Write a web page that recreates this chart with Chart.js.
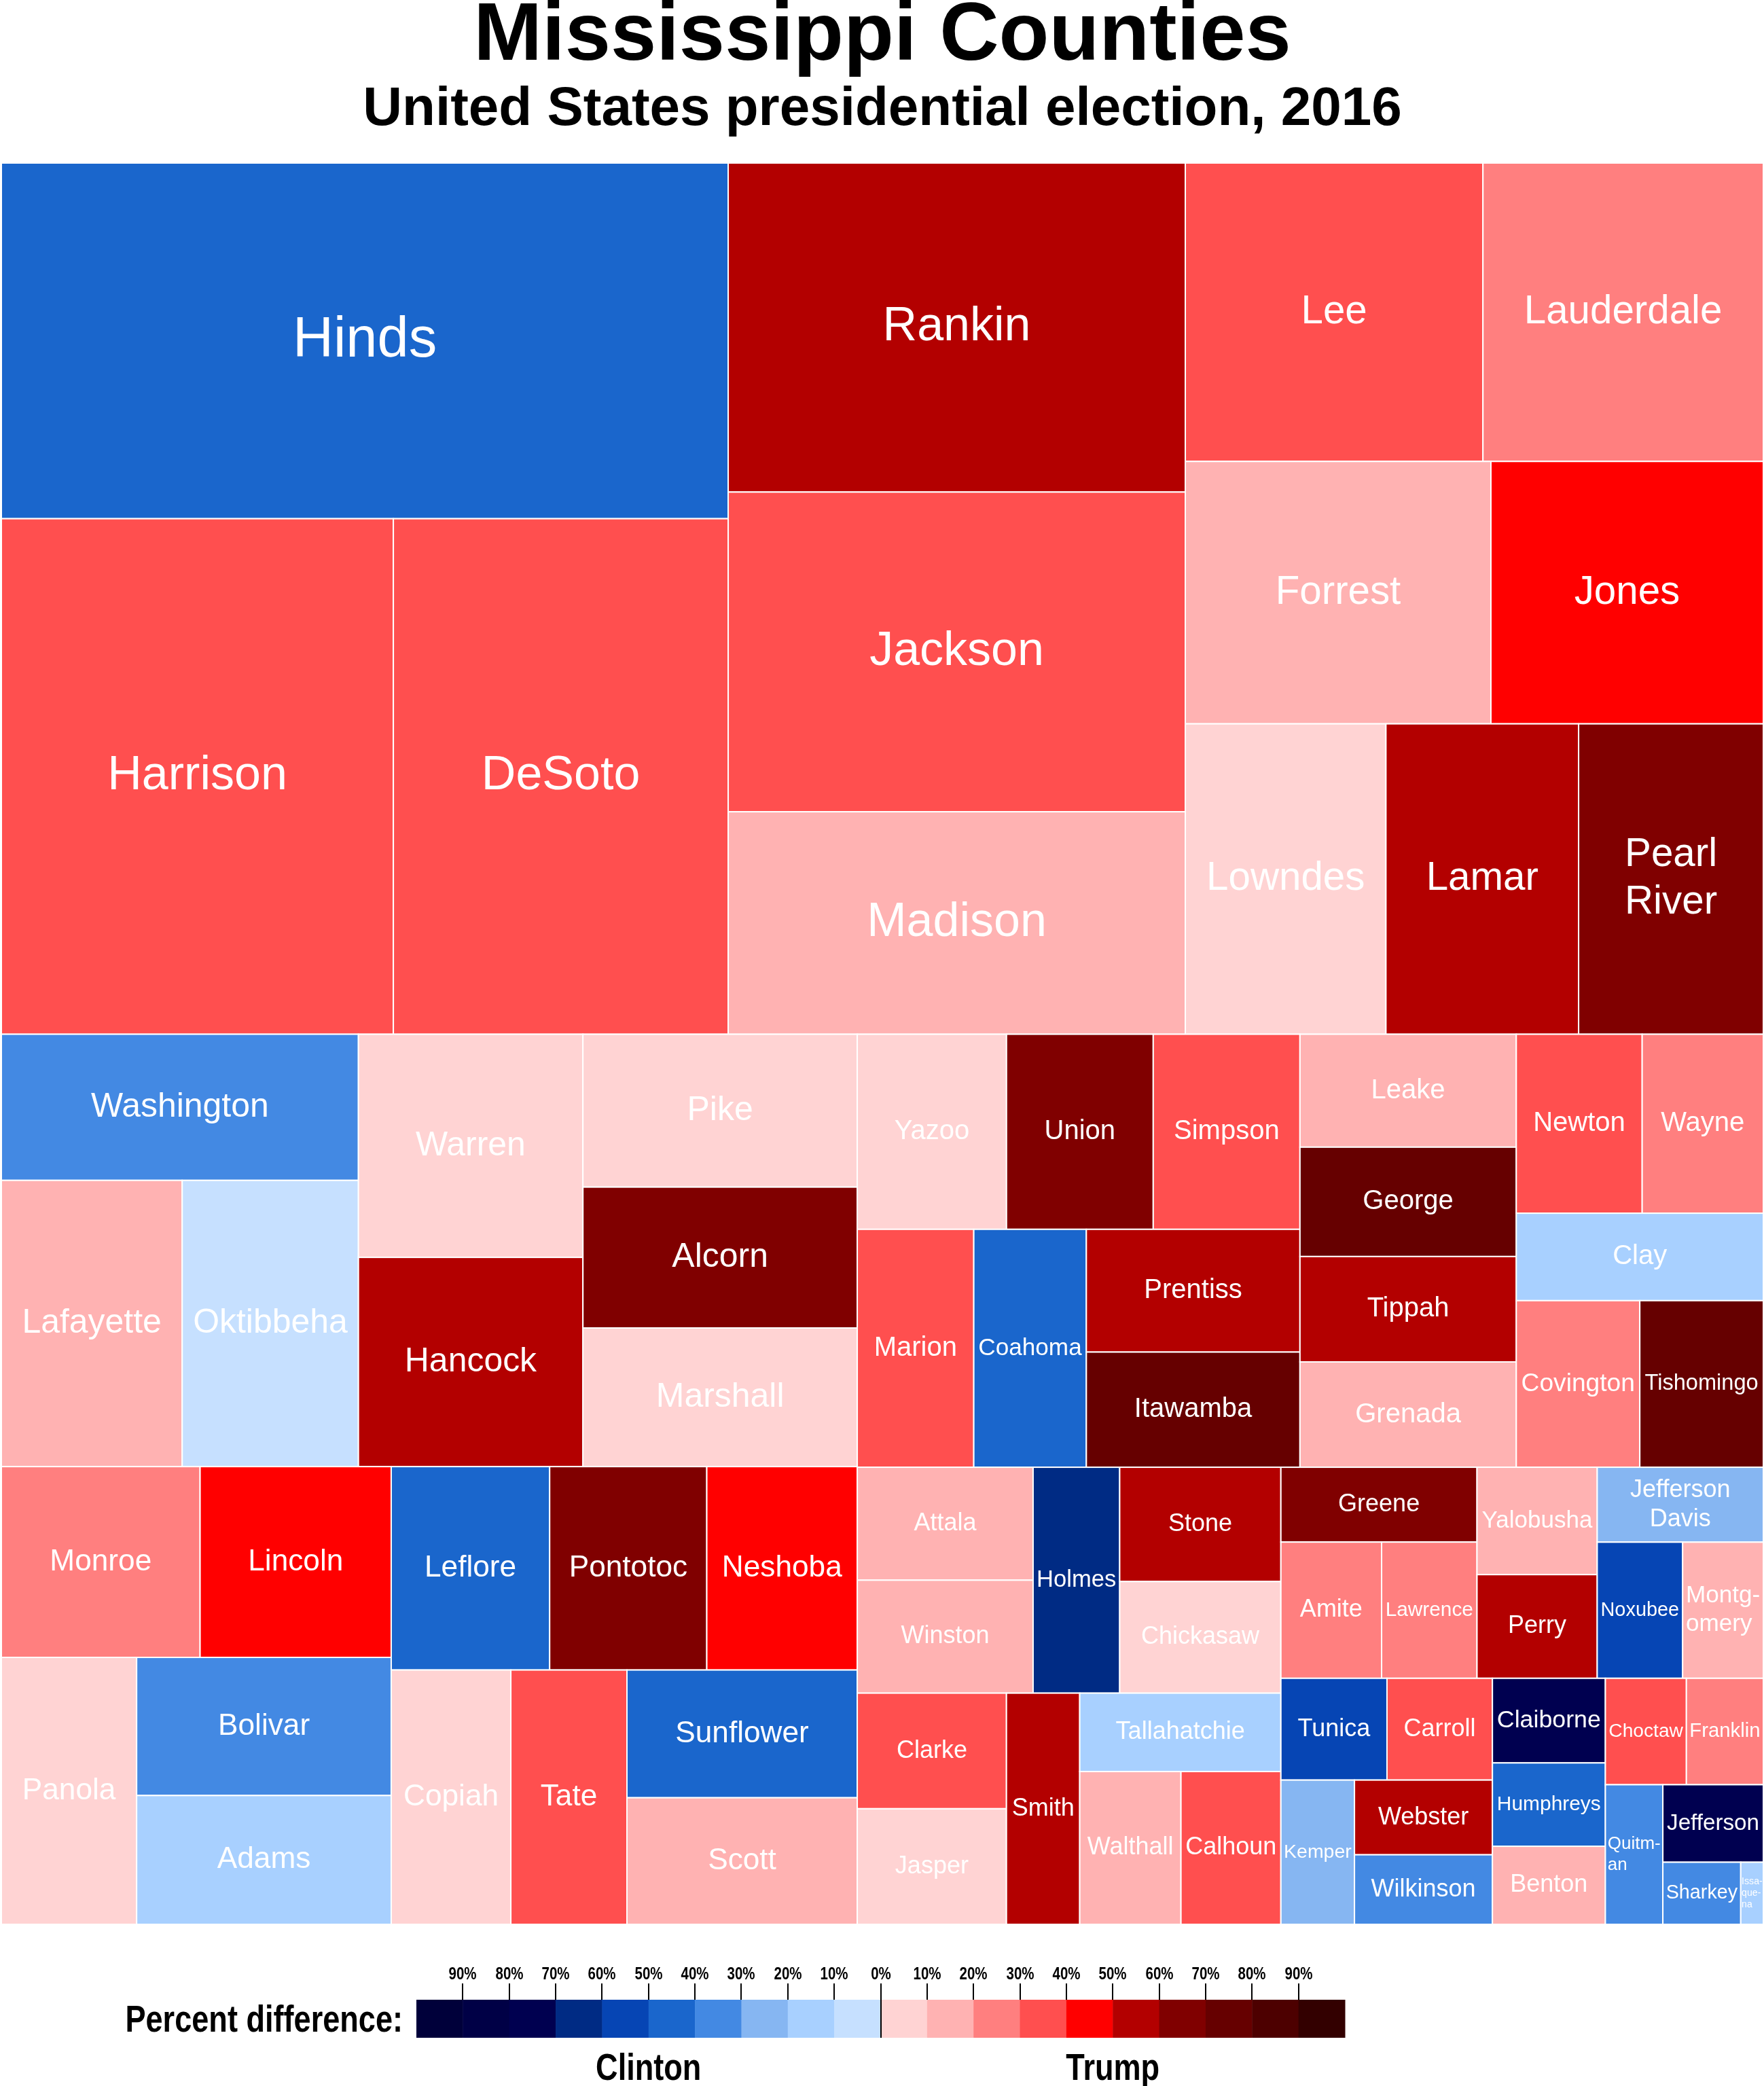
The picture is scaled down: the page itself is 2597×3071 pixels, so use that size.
<!DOCTYPE html>
<html lang="en">
<head>
<meta charset="UTF-8">
<title>Mississippi Counties</title>
<script src="https://cdn.jsdelivr.net/npm/chart.js@4"></script>
<style>
  html, body { margin: 0; padding: 0; background: #fff; }
  canvas { display: block; }
</style>
</head>
<body>
<canvas id="treemap" width="2597" height="3071"></canvas>
<script>
// Counties, largest first (same order as the tiles)
const counties = ['Hinds','Harrison','DeSoto','Rankin','Jackson','Madison','Lee','Lauderdale','Forrest','Jones',
  'Lowndes','Lamar','Pearl River','Washington','Lafayette','Oktibbeha','Warren','Hancock','Pike','Alcorn',
  'Marshall','Monroe','Lincoln','Panola','Bolivar','Adams','Leflore','Pontotoc','Neshoba','Copiah',
  'Tate','Sunflower','Scott','Yazoo','Union','Simpson','Marion','Coahoma','Prentiss','Itawamba',
  'Leake','George','Tippah','Grenada','Newton','Wayne','Clay','Covington','Tishomingo','Attala',
  'Winston','Holmes','Stone','Chickasaw','Clarke','Jasper','Smith','Tallahatchie','Walthall','Calhoun',
  'Greene','Amite','Lawrence','Yalobusha','Perry','Jefferson Davis','Noxubee','Montgomery','Tunica','Carroll',
  'Kemper','Webster','Wilkinson','Claiborne','Humphreys','Benton','Choctaw','Franklin','Quitman','Jefferson',
  'Sharkey','Issaquena'];

// Relative tile size (population), estimated from the tile areas
const tileSize = [146049,114165,97524,84968,82560,57448,50176,47264,45310,40385,
  35183,33785,32387,29480,29240,28500,28300,26533,23690,21836,
  21480,21420,20600,20400,19864,18527,18207,18054,17289,17190,
  16680,16620,16470,16450,16170,16170,15664,15130,14812,13900,
  13800,13366,12877,12877,12730,12250,12200,11625,11625,11220,
  11220,11050,10406,10164,9744,9744,9570,8909,8740,8625,
  8288,7752,7344,7291,7040,7030,6570,6205,6101,6061,
  5997,5822,5420,5400,5320,4980,4871,4625,4533,4399,
  2734,792];

// Trump minus Clinton, percentage points (negative = Clinton ahead)
const margin = [-46,33,32,55,35,15,36,27,15,44,
  4,56,65,-37,15,-1,5,57,4,63,
  5,26,46,3,-33,-15,-45,65,43,2,
  34,-41,16,2,65,33,34,-46,58,75,
  14,77,55,15,35,24,-15,25,76,16,
  15,-66,53,3,33,3,56,-14,15,38,
  66,24,25,14,52,-22,-53,13,-52,37,
  -22,58,-35,-73,-45,17,38,27,-32,-76,
  -33,-14];

// Tile text where the name is broken over lines
const tileText = {
  'Pearl River': 'Pearl\nRiver',
  'Jefferson Davis': 'Jefferson\nDavis',
  'Montgomery': 'Montg-\nomery',
  'Quitman': 'Quitm-\nan',
  'Issaquena': 'Issa-\nque-\nna'
};

// 0-10%, 10-20%, ... 90-100%
const clintonColors = ['#c6e0ff','#a8d0ff','#86b6f2','#4389e3','#1a66cc','#0645b4','#002b84','#000050','#000046','#00003a'];
const trumpColors = ['#ffd3d3','#ffb2b2','#ff7f7f','#ff4f4f','#ff0000','#b30000','#800000','#660000','#4d0000','#330000'];
const legendTicks = ['90%','80%','70%','60%','50%','40%','30%','20%','10%','0%','10%','20%','30%','40%','50%','60%','70%','80%','90%'];

const FONT = '"Liberation Sans", Arial, Helvetica, sans-serif';

function colorFor(m) {
  const bin = Math.min(9, Math.floor(Math.abs(m) / 10));
  return m >= 0 ? trumpColors[bin] : clintonColors[bin];
}

// ordered binary split: first part = largest prefix holding at most half the total
function layoutTiles(aspect) {
  const items = counties.map((name, i) => ({ name, size: tileSize[i], margin: margin[i] }))
    .sort((a, b) => b.size - a.size);
  const tiles = [];

  function place(list, x0, y0, x1, y1, depth, fontBase) {
    const total = list.reduce((s, d) => s + d.size, 0);
    if (depth === 3 || (list.length === 1 && fontBase == null)) {
      // one label size per block, from the mean tile size in it
      const fs = 40 * Math.pow(total / list.length / 13850, 0.35);
      fontBase = Math.max(36, Math.min(list.length === 1 ? 83 : 70, fs));
    }
    if (list.length === 1) {
      tiles.push(Object.assign({}, list[0], { x0, y0, x1, y1, fontBase }));
      return;
    }
    let k = 1, acc = list[0].size;
    while (k < list.length - 1 && acc + list[k].size <= total / 2) {
      acc += list[k].size;
      k++;
    }
    const f = acc / total;
    const w = (x1 - x0) * aspect, h = y1 - y0;
    if (w > h * 1.062) {
      const xm = x0 + (x1 - x0) * f;
      place(list.slice(0, k), x0, y0, xm, y1, depth + 1, fontBase);
      place(list.slice(k), xm, y0, x1, y1, depth + 1, fontBase);
    } else {
      const ym = y0 + (y1 - y0) * f;
      place(list.slice(0, k), x0, y0, x1, ym, depth + 1, fontBase);
      place(list.slice(k), x0, ym, x1, y1, depth + 1, fontBase);
    }
  }

  place(items, 0, 0, 1, 1, 0, null);
  return tiles;
}

const treemapPlugin = {
  id: 'treemap',
  afterLayout(chart) {
    const a = chart.chartArea;
    chart.$tiles = layoutTiles((a.right - a.left) / (a.bottom - a.top));
  },
  beforeDatasetsDraw(chart) {
    const { ctx } = chart;
    const xs = chart.scales.x, ys = chart.scales.y;
    ctx.save();
    chart.$tiles.forEach(t => {
      const px0 = xs.getPixelForValue(t.x0), px1 = xs.getPixelForValue(t.x1);
      const py0 = ys.getPixelForValue(t.y0), py1 = ys.getPixelForValue(t.y1);
      t.px = [px0, py0, px1 - px0, py1 - py0];
      ctx.fillStyle = colorFor(t.margin);
      ctx.fillRect(px0, py0, px1 - px0, py1 - py0);
      ctx.strokeStyle = '#ffffff';
      ctx.lineWidth = 2;
      ctx.strokeRect(px0, py0, px1 - px0, py1 - py0);
    });

    // labels
    ctx.fillStyle = '#ffffff';
    ctx.textBaseline = 'middle';
    chart.$tiles.forEach(t => {
      const [px, py, w, h] = t.px;
      const lines = (tileText[t.name] || t.name).split('\n');
      const hyphen = lines.length > 1 && lines[0].endsWith('-');
      let fs = t.fontBase;
      ctx.font = fs + 'px ' + FONT;
      const widest = Math.max(...lines.map(l => ctx.measureText(l).width));
      fs = Math.min(fs, fs * 0.92 * w / widest, 0.9 * h / (lines.length * 1.2));
      ctx.font = fs + 'px ' + FONT;
      const blockW = Math.max(...lines.map(l => ctx.measureText(l).width));
      const cx = px + w / 2, cy = py + h / 2;
      lines.forEach((l, i) => {
        const ly = cy + (i - (lines.length - 1) / 2) * fs * 1.2;
        if (hyphen) {
          ctx.textAlign = 'left';
          ctx.fillText(l, cx - blockW / 2, ly);
        } else {
          ctx.textAlign = 'center';
          ctx.fillText(l, cx, ly);
        }
      });
    });
    ctx.restore();
  }
};

function narrowText(ctx, text, x, y, size, align) {
  ctx.save();
  ctx.translate(x, y);
  ctx.scale(0.82, 1);
  ctx.font = 'bold ' + size + 'px ' + FONT;
  ctx.textAlign = align;
  ctx.textBaseline = 'alphabetic';
  ctx.fillStyle = '#000';
  ctx.fillText(text, 0, 0);
  ctx.restore();
}

const legendPlugin = {
  id: 'percentLegend',
  afterDraw(chart) {
    const ctx = chart.ctx;
    const barLeft = 613, barRight = 1980, barTop = 2944, barBottom = 3000;
    const colors = clintonColors.slice().reverse().concat(trumpColors);
    const step = (barRight - barLeft) / colors.length;
    ctx.save();
    colors.forEach((c, i) => {
      ctx.fillStyle = c;
      ctx.fillRect(barLeft + i * step, barTop, step + 0.5, barBottom - barTop);
    });
    ctx.strokeStyle = '#000';
    ctx.lineWidth = 2;
    legendTicks.forEach((t, i) => {
      const tx = Math.round(barLeft + (i + 1) * step);
      ctx.beginPath();
      ctx.moveTo(tx, 2920);
      ctx.lineTo(tx, t === '0%' ? barBottom : barTop);
      ctx.stroke();
      narrowText(ctx, t, tx, 2914, 25, 'center');
    });
    narrowText(ctx, 'Percent difference:', 593, 2991, 55, 'right');
    narrowText(ctx, 'Clinton', barLeft + 5 * step, 3062, 55, 'center');
    narrowText(ctx, 'Trump', barLeft + 15 * step, 3062, 55, 'center');
    ctx.restore();
  }
};

Chart.defaults.font.family = FONT;

new Chart(document.getElementById('treemap'), {
  type: 'scatter',
  data: { datasets: [{ data: [], pointRadius: 0 }] },
  options: {
    responsive: false,
    maintainAspectRatio: false,
    animation: false,
    devicePixelRatio: 1,
    layout: { padding: { left: 2, right: 1, top: 0, bottom: 238 } },
    plugins: {
      legend: { display: false },
      tooltip: { enabled: false },
      title: {
        display: true,
        text: 'Mississippi Counties',
        color: '#000',
        font: { size: 121, weight: 'bold', lineHeight: 0.909 },
        padding: { top: 0, bottom: 0 }
      },
      subtitle: {
        display: true,
        text: 'United States presidential election, 2016',
        color: '#000',
        font: { size: 80, weight: 'bold', lineHeight: 1 },
        padding: { top: 12, bottom: 38 }
      }
    },
    scales: {
      x: { type: 'linear', min: 0, max: 1, display: false },
      y: { type: 'linear', min: 0, max: 1, reverse: true, display: false }
    }
  },
  plugins: [treemapPlugin, legendPlugin]
});
</script>
</body>
</html>
